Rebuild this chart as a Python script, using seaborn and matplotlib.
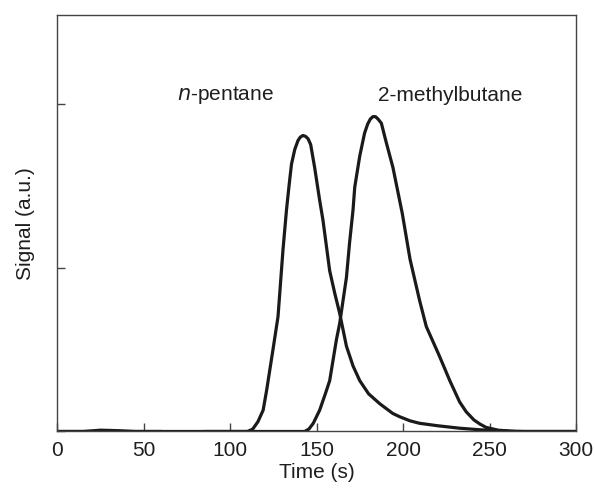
import matplotlib
matplotlib.use("Agg")
import matplotlib.pyplot as plt
import seaborn as sns
import pandas as pd

# n-pentane trace (time s, signal a.u.)
pentane_t = [0, 15, 25, 35, 45, 60, 72, 85, 100, 110, 113, 116, 119, 121, 124.7, 127.6, 130.5, 132.5,
             134, 135.4, 137.3, 139.2, 140.5, 142, 143.5, 145, 146.5, 148.8, 151.7, 153.6, 157.5,
             160.5, 163.3, 167.2, 171, 174.9, 180, 186.4, 194, 198, 204, 209.5, 220, 232.7, 245,
             255.8, 265, 300]
pentane_y = [0.0, 0.0, 0.008, 0.005, 0.0, 0.0, -0.01, 0.0, 0.0, 0.0, 0.015, 0.06, 0.13, 0.25, 0.50,
             0.70, 1.11, 1.35, 1.50, 1.63, 1.72, 1.775, 1.795, 1.805, 1.80, 1.785, 1.75, 1.61, 1.41,
             1.29, 0.98, 0.84, 0.72, 0.52, 0.40, 0.31, 0.23, 0.17, 0.11, 0.09, 0.065, 0.05, 0.035,
             0.02, 0.01, 0.005, 0.0, 0.0]

# 2-methylbutane trace
methylbutane_t = [0, 100, 143, 145.5, 148, 151.7, 155, 157.5, 161.4, 163.3, 167.2, 169, 171, 172,
                  174.9, 177.7, 179.5, 181, 182.5, 184, 185.5, 187.4, 190.3, 194.1, 199.5, 204,
                  209.5, 213.4, 221, 227, 232.7, 236.5, 241, 244.5, 248, 255, 262.5, 270, 300]
methylbutane_y = [0.0, 0.0, 0.0, 0.015, 0.05, 0.13, 0.23, 0.31, 0.56, 0.66, 0.94, 1.15, 1.35, 1.49,
                  1.68, 1.82, 1.875, 1.905, 1.92, 1.92, 1.905, 1.88, 1.76, 1.61, 1.33, 1.05,
                  0.80, 0.64, 0.46, 0.31, 0.18, 0.12, 0.07, 0.045, 0.025, 0.008, 0.002, 0.0, 0.0]

x_ticks = [0, 50, 100, 150, 200, 250, 300]
y_ticks = [0, 1, 2]
labels = ["n-pentane", "2-methylbutane"]

df = pd.concat([
    pd.DataFrame({"t": pentane_t, "s": pentane_y, "compound": labels[0]}),
    pd.DataFrame({"t": methylbutane_t, "s": methylbutane_y, "compound": labels[1]}),
], ignore_index=True)

sns.set_style("ticks")
plt.rcParams["font.family"] = ["Liberation Sans", "DejaVu Sans"]
txt = "#1e1e1e"

fig = plt.figure(figsize=(5.95, 4.91), dpi=100)
ax = fig.add_axes([0.0966, 0.1212, 0.8714, 0.8483])

sns.lineplot(data=df, x="t", y="s", units="compound", estimator=None, sort=False,
             color="#1a1a1a", linewidth=2.3, ax=ax, legend=False,
             solid_joinstyle="round", solid_capstyle="round")

ax.set_xlim(0, 300)
ax.set_ylim(0, 2.54)
ax.set_xticks(x_ticks)
ax.set_xticklabels([str(v) for v in x_ticks], fontsize=15, color=txt)
ax.set_yticks(y_ticks)
ax.set_yticklabels([])
ax.tick_params(direction="in", length=6, width=1.0, color="#444444", pad=7)
for sp in ax.spines.values():
    sp.set_color("#444444")
    sp.set_linewidth(1.0)
    sp.set_visible(True)

ax.set_xlabel("Time (s)", fontsize=15, labelpad=2, color=txt)
ax.set_ylabel("Signal (a.u.)", fontsize=15, labelpad=9, color=txt)

ax.text(97, 2.05, r"$\it{n}$-pentane", fontsize=15, ha="center", va="center", color=txt)
ax.text(227, 2.05, "2-methylbutane", fontsize=15, ha="center", va="center", color=txt)

fig.savefig("out.png", dpi=100)
